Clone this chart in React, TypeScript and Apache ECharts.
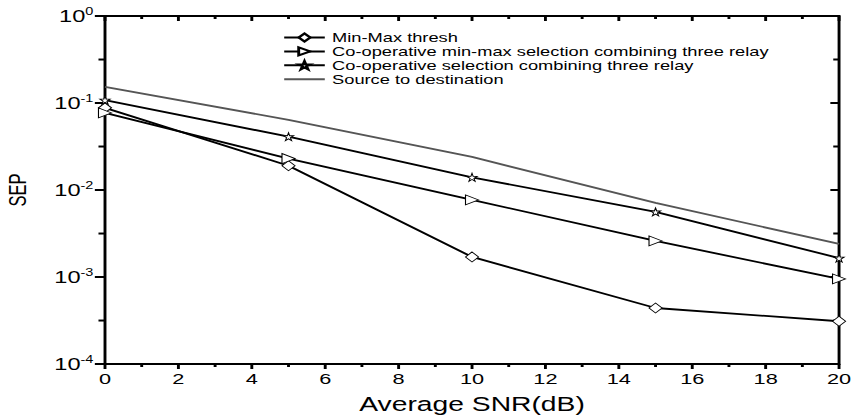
import React, { useEffect, useRef } from "react";
import * as echarts from "echarts";

const snr = [0, 5, 10, 15, 20];
const minMaxThresh = [0.088, 0.019, 0.0017, 0.00044, 0.00031];
const coopMinMax = [0.077, 0.023, 0.0077, 0.0026, 0.00095];
const coopSelection = [0.108, 0.041, 0.014, 0.0056, 0.00165];
const sourceToDest = [0.153, 0.064, 0.024, 0.0071, 0.0024];

const seriesNames = [
  "Min-Max thresh",
  "Co-operative min-max selection combining three relay",
  "Co-operative selection combining three relay",
  "Source to destination",
];

// tick positions of the frame
const xMajorTicks = [0, 2, 4, 6, 8, 10, 12, 14, 16, 18, 20];
const xMinorTicks = [1, 3, 5, 7, 9, 11, 13, 15, 17, 19];
const yMajorTicks = [0.0001, 0.001, 0.01, 0.1, 1];
const yMinorTicks = [0.000316, 0.00316, 0.0316, 0.316];

const STAR =
  "path://M50,0 L61,35 L98,35 L68,57 L79,91 L50,70 L21,91 L32,57 L2,35 L39,35 Z";

// the reference picture is stretched horizontally
const SX = 1.45;
const OFFL = 20;
const EXTRA_H = 24;
const W = 855 / SX + OFFL;
const H = 416 + EXTRA_H;

const pairs = (ys: number[]) => snr.map((x, i) => [x, ys[i]]);

export default function App() {
  const ref = useRef<HTMLDivElement>(null);
  useEffect(() => {
    if (!ref.current) return;
    const chart = echarts.init(ref.current, undefined, { renderer: "svg" });
    const font = "Arial, 'Liberation Sans', sans-serif";
    const yLabel = (v: number) => {
      const e = Math.round(Math.log10(v));
      return `{b|10}{s|${e}}`;
    };
    const frameItem = (params: any, api: any) => {
      const c = (x: number, y: number) => api.coord([x, y]);
      const L = c(0, 0.0001)[0];
      const R = c(20, 0.0001)[0];
      const B = c(0, 0.0001)[1];
      const T = c(0, 1)[1];
      const style = { stroke: "#000", lineWidth: 2, fill: "none" };
      const seg = (pts: number[][]) => ({ type: "polyline", shape: { points: pts }, style });
      const children: any[] = [
        seg([[L, T - 1], [L, B + 1]]),
        seg([[R, T - 1], [R, B + 1]]),
        seg([[L - 0.7, T], [R + 0.7, T]]),
        seg([[L - 0.7, B], [R + 0.7, B]]),
      ];
      xMajorTicks.forEach((v) => {
        const x = c(v, 0.0001)[0];
        children.push(seg([[x, B], [x, B + 5]]));
        children.push(seg([[x, T], [x, T + 5]]));
      });
      xMinorTicks.forEach((v) => {
        const x = c(v, 0.0001)[0];
        children.push(seg([[x, B], [x, B + 3]]));
        children.push(seg([[x, T], [x, T + 3]]));
      });
      yMajorTicks.forEach((v) => {
        const y = c(0, v)[1];
        children.push(seg([[L - 7, y], [L, y]]));
        children.push(seg([[R - 6, y], [R, y]]));
      });
      yMinorTicks.forEach((v) => {
        const y = c(0, v)[1];
        children.push(seg([[L - 4.5, y], [L, y]]));
        children.push(seg([[R - 4, y], [R, y]]));
      });
      return { type: "group", children };
    };
    chart.setOption({
      animation: false,
      backgroundColor: "#fff",
      grid: { left: 105 / SX + OFFL, right: 16 / SX, top: 16, bottom: 52 + EXTRA_H },
      legend: {
        orient: "vertical",
        left: 190 + OFFL,
        top: 26,
        itemWidth: 28,
        itemHeight: 10,
        itemGap: 0.9,
        textStyle: { fontFamily: font, fontSize: 12.6, lineHeight: 12, color: "#000" },
        data: [
          seriesNames[0],
          seriesNames[1],
          seriesNames[2],
          { name: seriesNames[3], itemStyle: { color: "rgba(0,0,0,0)", borderColor: "rgba(0,0,0,0)" } },
        ],
      },
      xAxis: {
        type: "value",
        min: 0,
        max: 20,
        interval: 2,
        name: "Average SNR(dB)",
        nameLocation: "middle",
        nameGap: 30,
        nameTextStyle: { fontFamily: font, fontSize: 19.5, color: "#000" },
        axisLine: { show: false, onZero: false },
        axisTick: { show: false },
        axisLabel: { fontFamily: font, fontSize: 15, color: "#000", margin: 7 },
        splitLine: { show: false },
      },
      yAxis: {
        type: "log",
        logBase: 10,
        min: 0.0001,
        max: 1,
        name: "SEP",
        nameLocation: "middle",
        nameGap: 52,
        nameTextStyle: { fontFamily: font, fontSize: 16.5, color: "#000" },
        axisLine: { show: false, onZero: false },
        axisTick: { show: false },
        axisLabel: {
          formatter: yLabel,
          margin: 8,
          rich: {
            b: { fontFamily: font, fontSize: 16.3, color: "#000", lineHeight: 18 },
            s: { fontFamily: font, fontSize: 10, color: "#000", verticalAlign: "top", lineHeight: 10 },
          },
        },
        splitLine: { show: false },
      },
      series: [
        {
          name: "frame",
          type: "custom",
          renderItem: frameItem,
          data: [[0, 0.01]],
          clip: false,
          silent: true,
          z: 1,
        },
        {
          name: seriesNames[0],
          type: "line",
          data: pairs(minMaxThresh),
          symbol: "diamond",
          symbolSize: [9, 10],
          itemStyle: { color: "#fff", borderColor: "#000", borderWidth: 0.8 },
          lineStyle: { color: "#000", width: 1.8 },
          z: 3,
        },
        {
          name: seriesNames[1],
          type: "line",
          data: pairs(coopMinMax),
          symbol: "triangle",
          symbolRotate: -90,
          symbolSize: [10, 9],
          itemStyle: { color: "#fff", borderColor: "#000", borderWidth: 0.8 },
          lineStyle: { color: "#000", width: 1.8 },
          z: 3,
        },
        {
          name: seriesNames[2],
          type: "line",
          data: pairs(coopSelection),
          symbol: STAR,
          symbolSize: [7, 8],
          itemStyle: { color: "#fff", borderColor: "#000", borderWidth: 0.8 },
          lineStyle: { color: "#000", width: 1.8 },
          z: 3,
        },
        {
          name: seriesNames[3],
          type: "line",
          data: pairs(sourceToDest),
          symbol: "none",
          itemStyle: { color: "#555" },
          lineStyle: { color: "#555", width: 1.8 },
          z: 2,
        },
      ],
    });
    return () => chart.dispose();
  }, []);
  return (
    <div
      ref={ref}
      style={{
        width: W,
        height: H,
        position: "absolute",
        left: -OFFL * SX,
        top: 0,
        transform: `scaleX(${SX})`,
        transformOrigin: "0 0",
      }}
    />
  );
}
